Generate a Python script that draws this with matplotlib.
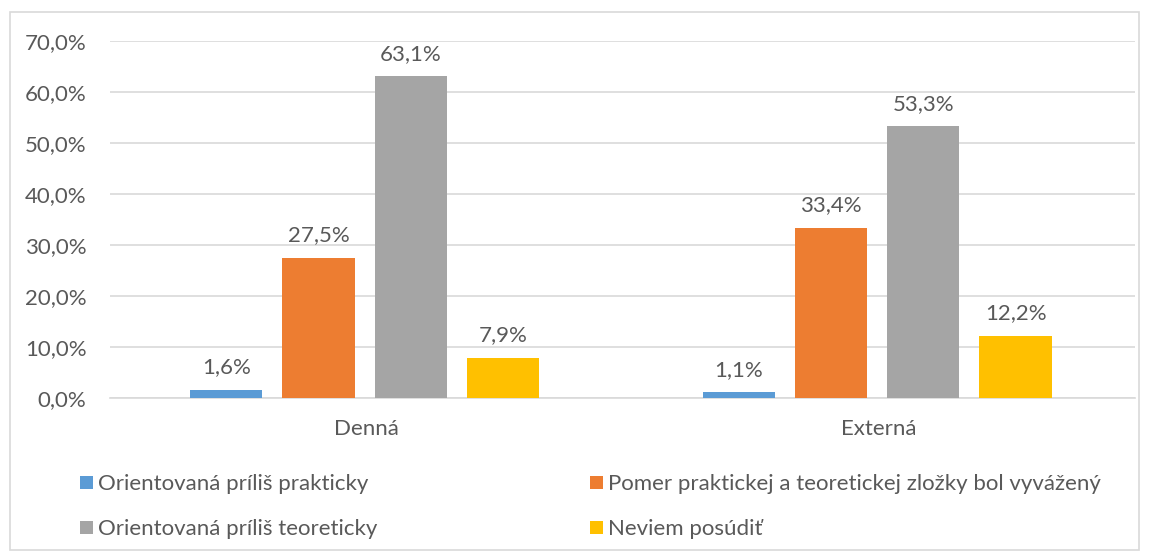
import matplotlib
matplotlib.use("Agg")
import matplotlib.pyplot as plt
from matplotlib.patches import Rectangle
import numpy as np

categories = ["Denná", "Externá"]
series_names = [
    "Orientovaná príliš prakticky",
    "Pomer praktickej a teoretickej zložky bol vyvážený",
    "Orientovaná príliš teoreticky",
    "Neviem posúdiť",
]
values = [
    [1.6, 1.1],
    [27.5, 33.4],
    [63.1, 53.3],
    [7.9, 12.2],
]
colors = ["#5B9BD5", "#ED7D31", "#A5A5A5", "#FFC000"]
yticks = [0, 10, 20, 30, 40, 50, 60, 70]

plt.rcParams['font.family'] = ['Lato', 'DejaVu Sans']
txt = "#595959"
grid = "#D9D9D9"
fs = 16

W, H = 1149, 552
fig = plt.figure(figsize=(W/100, H/100), dpi=100)
ax = fig.add_axes([110/W, 1-398/H, (1135-110)/W, (398-41)/H])

x = np.arange(len(categories))
width = 0.141
step = 0.18
for i, (name, vals, c) in enumerate(zip(series_names, values, colors)):
    pos = x + (i - 1.5) * step - 0.003
    bars = ax.bar(pos, vals, width=width, color=c, label=name, zorder=3)
    for b, v in zip(bars, vals):
        ax.annotate(f"{v:.1f}%".replace(".", ","), (b.get_x() + b.get_width()/2, v),
                    xytext=(0, 9), textcoords="offset points", ha="center", va="bottom",
                    fontsize=fs, color=txt)

ax.set_xlim(-0.5, 1.5)
ax.set_ylim(0, 70)
ax.set_yticks(yticks)
ax.set_yticklabels([f"{t:.1f}%".replace(".", ",") for t in yticks], fontsize=fs, color=txt)
ax.set_xticks(x)
ax.set_xticklabels(categories, fontsize=fs, color=txt)
ax.tick_params(axis="both", length=0)
ax.tick_params(axis="x", pad=15)
ax.tick_params(axis="y", pad=17)
ax.grid(axis="y", color=grid, linewidth=1.2, zorder=0)
for s in ["top", "right", "left"]:
    ax.spines[s].set_visible(False)
ax.spines["bottom"].set_color(grid)
ax.spines["bottom"].set_linewidth(1.2)

# legend, laid out in rows as in the reference
leg_pos = [(80, 482), (590, 482), (80, 527), (590, 527)]
for (lx, ly), name, c in zip(leg_pos, series_names, colors):
    fig.patches.append(Rectangle((lx/W, 1-(ly+6.5)/H), 13/W, 13/H, transform=fig.transFigure,
                                 facecolor=c, edgecolor="none"))
    fig.text((lx+18)/W, 1-ly/H, name, fontsize=fs, color=txt, ha="left", va="center_baseline")

fig.patches.append(Rectangle((10/W, 2/H), 1129/W, 538/H, transform=fig.transFigure,
                             fill=False, edgecolor=grid, linewidth=1.2))

fig.savefig("out.png", dpi=100)
